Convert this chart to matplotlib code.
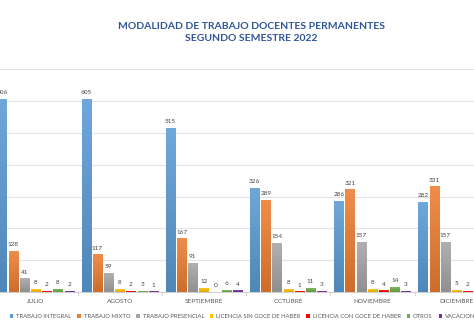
import numpy as np
import matplotlib
matplotlib.use('Agg')
import matplotlib.pyplot as plt
from matplotlib.colors import LinearSegmentedColormap, to_rgb

plt.rcParams['font.family'] = ['Lato', 'DejaVu Sans']

meses = ['JULIO', 'AGOSTO', 'SEPTIEMBRE', 'OCTUBRE', 'NOVIEMBRE', 'DICIEMBRE']
series = ['TRABAJO INTEGRAL', 'TRABAJO MIXTO', 'TRABAJO PRESENCIAL',
          'LICENCIA SIN GOCE DE HABER', 'LICENCIA CON GOCE DE HABER',
          'OTROS', 'VACACIONES']

integral   = [606, 605, 515, 326, 286, 282]
mixto      = [128, 117, 167, 289, 321, 331]
presencial = [41, 59, 91, 154, 157, 157]
sin_goce   = [8, 8, 12, 8, 8, 5]
con_goce   = [2, 2, 0, 1, 4, 2]
otros      = [8, 3, 6, 11, 14, 12]
vacaciones = [2, 1, 4, 3, 3, 3]

valores = [integral, mixto, presencial, sin_goce, con_goce, otros, vacaciones]
colores = ['#5B9BD5', '#ED7D31', '#A5A5A5', '#FFC000', '#FF0000', '#70AD47', '#7030A0']


def mezcla(c, otro, t):
    c = np.array(to_rgb(c))
    return tuple(c + (np.array(otro) - c) * t)


fig = plt.figure(figsize=(4.74, 3.24), dpi=100)
# plot area runs a little past both edges of the canvas
ax = fig.add_axes([-6.5 / 474, 32 / 324, 505.2 / 474, 222.7 / 324])

x = np.arange(len(meses))
paso = 0.133
ancho = 0.107
grad = np.linspace(1, 0, 64).reshape(-1, 1)
for k, (nombre, vals, c) in enumerate(zip(series, valores, colores)):
    pos = x + (k - 3) * paso
    # shaded fill: lighter at the top, darker at the base
    cmap = LinearSegmentedColormap.from_list(
        nombre, [mezcla(c, (0, 0, 0), 0.13), mezcla(c, (1, 1, 1), 0.12)])
    bars = ax.bar(pos, vals, width=ancho, color=c, label=nombre, zorder=3)
    for b, v in zip(bars, vals):
        if v > 0:
            ax.imshow(grad, extent=[b.get_x(), b.get_x() + ancho, 0, v],
                      cmap=cmap, aspect='auto', origin='upper', zorder=4,
                      interpolation='bilinear')
    for xi, v in zip(pos, vals):
        ax.annotate(str(v), (xi, v), xytext=(0, 3), textcoords='offset points',
                    ha='center', va='bottom', fontsize=4.6, color='#404040')

ax.set_xlim(-0.5, len(meses) - 0.5)
ax.set_ylim(0, 700)
ax.set_yticks(np.arange(0, 701, 100))
ax.yaxis.grid(True, color='#E3E3E3', linewidth=0.8, zorder=0)
ax.tick_params(axis='y', left=False, labelleft=False)
ax.set_xticks(x)
ax.set_xticklabels(meses, fontsize=4.6, color='#595959')
ax.set_xticks(np.arange(0.5, len(meses) - 0.5, 1), minor=True)
ax.tick_params(axis='x', which='major', length=0, pad=5)
ax.tick_params(axis='x', which='minor', length=3, color='#D0D0D0', width=0.6)
for s in ['top', 'left', 'right']:
    ax.spines[s].set_visible(False)
ax.spines['bottom'].set_color('#D0D0D0')
ax.spines['bottom'].set_linewidth(0.8)

fig.text(251 / 474, 1 - 32.5 / 324,
         'MODALIDAD DE TRABAJO DOCENTES PERMANENTES\nSEGUNDO SEMESTRE 2022',
         ha='center', va='center', fontsize=7.5, fontweight='bold',
         color='#2F5597', linespacing=1.5)

fig.legend(loc='center', bbox_to_anchor=(246 / 474, 1 - 316.7 / 324), ncol=7,
           frameon=False, fontsize=4.2, handlelength=0.6, handleheight=0.6,
           handletextpad=0.5, columnspacing=1.0, labelcolor='#595959')

fig.savefig('out.png', dpi=100)
